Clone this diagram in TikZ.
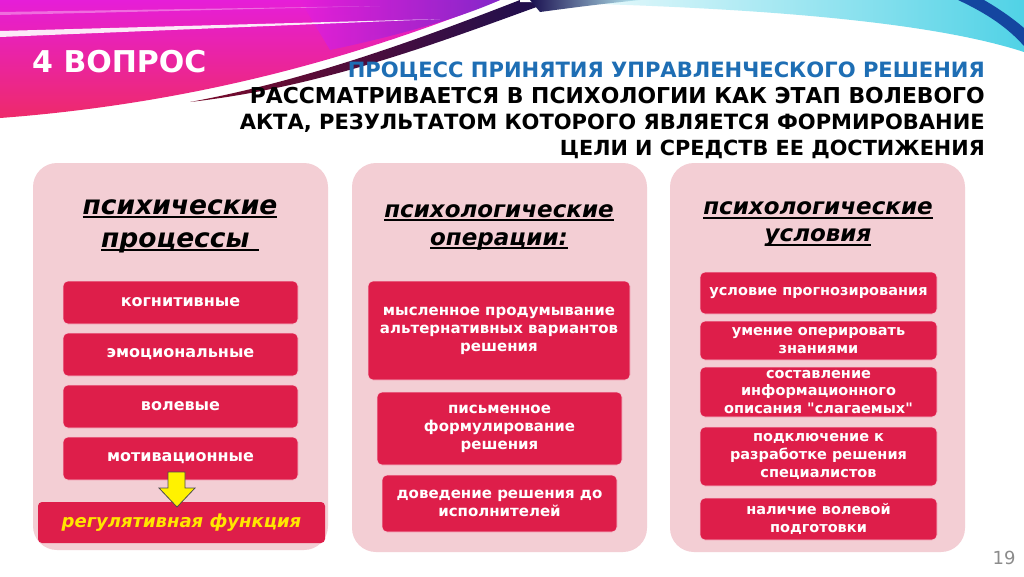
\documentclass[tikz,border=0pt]{standalone}
\usepackage{fontspec}
\setmainfont{DejaVu Sans}
\newfontfamily\nqfont{DejaVu Sans}[Ligatures=TeXOff]
\definecolor{mag}{HTML}{E61ED8}
\definecolor{pinkred}{HTML}{EE2A6A}
\definecolor{violet}{HTML}{7A28C8}
\definecolor{navy}{HTML}{1A1050}
\definecolor{maroon}{HTML}{7A0A2A}
\definecolor{cyanb}{HTML}{50D2E6}
\definecolor{cornerblue}{HTML}{1446A0}
\definecolor{panelpink}{HTML}{F3CED4}
\definecolor{crim}{HTML}{DE1E4A}
\definecolor{tblue}{HTML}{1E6EB4}
\definecolor{regyellow}{HTML}{FFE600}
\definecolor{pgray}{HTML}{8C8C8C}
\newcommand\myul[1]{\setbox0=\hbox{#1}\rlap{\rule[-4pt]{\wd0}{1.8pt}}\box0}
\newcommand\sq{{\nqfont\bfseries"}}
\tikzset{
  panel/.style={fill=panelpink, draw=none, rounded corners=24pt, inner sep=0pt},
  itembox/.style={fill=crim, draw=white!75!crim, line width=0.6pt, rounded corners=5pt,
     text=white, align=center, inner sep=0pt,
     font=\bfseries\fontsize{#1}{18}\selectfont},
  headtext/.style={align=center, inner sep=0pt, text=black,
     font=\bfseries\itshape\fontsize{#1}{#1}\selectfont},
  titleline/.style={anchor=base east, inner sep=0pt, font=\bfseries\fontsize{#1}{#1}\selectfont},
  regbox/.style={fill=crim, draw=none, rounded corners=4pt, text=regyellow,
     font=\bfseries\itshape\fontsize{18}{20}\selectfont, inner sep=0pt},
  arrowsty/.style={fill=yellow, draw=black!70, line width=0.8pt, line join=miter}
}
\begin{document}
\begin{tikzpicture}[x=1pt,y=-1pt]
\useasboundingbox (0,0) rectangle (1024,576);
\fill[white] (0,0) rectangle (1024,576);
% ---- banner ----
\shade[top color=mag, bottom color=pinkred]
  (0,0) -- (500,0) .. controls (410,35) and (240,100) .. (0,118) -- cycle;
\shade[left color=mag, right color=violet, opacity=0.9]
  (300,0) -- (500,0) .. controls (460,18) and (400,35) .. (330,50) -- (300,0) -- cycle;
\shade[left color=maroon, right color=navy]
  (190,102) .. controls (310,80) and (430,35) .. (520,0) -- (556,0)
  .. controls (450,38) and (330,86) .. (190,102) -- cycle;
\fill[white, opacity=0.9] (0,31) -- (440,19) -- (0,37) -- cycle;
\fill[white, opacity=0.35] (0,12) -- (380,6) -- (0,15) -- cycle;
\shade[left color=white, right color=cyanb]
  (520,0) -- (1024,0) -- (1024,52) .. controls (920,18) and (720,6) .. (520,2) -- cycle;
\shade[left color=navy, right color=cyanb!40]
  (530,0) -- (640,0) .. controls (600,4) and (570,8) .. (540,12) -- cycle;
\fill[cornerblue] (958,0) .. controls (988,14) and (1008,28) .. (1024,46)
  -- (1024,28) .. controls (1010,16) and (996,7) .. (984,0) -- cycle;
% ---- titles ----
\node[anchor=base west, inner sep=0pt, text=white, font=\bfseries\fontsize{30}{30}\selectfont]
  (q) at (32,72) {4 ВОПРОС};
\node[titleline=20.5, text=tblue] (t1) at (985,77) {\resizebox{637pt}{!}{ПРОЦЕСС ПРИНЯТИЯ УПРАВЛЕНЧЕСКОГО РЕШЕНИЯ}};
\node[titleline=22] (t2) at (985,103) {\resizebox{735pt}{!}{РАССМАТРИВАЕТСЯ В ПСИХОЛОГИИ КАК ЭТАП ВОЛЕВОГО}};
\node[titleline=22] (t3) at (985,129) {\resizebox{745pt}{!}{АКТА, РЕЗУЛЬТАТОМ КОТОРОГО ЯВЛЯЕТСЯ ФОРМИРОВАНИЕ}};
\node[titleline=22] (t4) at (985,155) {\resizebox{425pt}{!}{ЦЕЛИ И СРЕДСТВ ЕЕ ДОСТИЖЕНИЯ}};
% ---- panels ----
\node[panel, minimum width=295pt, minimum height=387pt] (p1) at (180.5,356.5) {};
\node[panel, minimum width=295pt, minimum height=389pt] (p2) at (499.5,357.5) {};
\node[panel, minimum width=295pt, minimum height=389pt] (p3) at (817.5,357.5) {};
% ---- column 1 ----
\node[headtext=26, font=\bfseries\itshape\fontsize{26.5}{33}\selectfont] (h1) at (180,226)
  {\myul{психические}\\\myul{процессы\ }};
\node[itembox=16, minimum width=235pt, minimum height=43pt] (a1) at (180.5,302.5) {когнитивные};
\node[itembox=16, minimum width=235pt, minimum height=43pt] (a2) at (180.5,354.5) {эмоциональные};
\node[itembox=16, minimum width=235pt, minimum height=43pt] (a3) at (180.5,406.5) {волевые};
\node[itembox=16, minimum width=235pt, minimum height=43pt] (a4) at (180.5,458.5) {мотивационные};
\node[regbox, minimum width=287pt, minimum height=41pt] (reg) at (181.5,522.5) {регулятивная функция};
\draw[arrowsty] (168,472) -- (185,472) -- (185,488) -- (195,488) -- (177,507)
  -- (159,488) -- (168,488) -- cycle;
% ---- column 2 ----
\node[headtext=23, font=\bfseries\itshape\fontsize{23}{28}\selectfont] (h2) at (499,227)
  {\myul{психологические}\\\myul{операции:}};
\node[itembox=15, minimum width=262pt, minimum height=99pt] (b1) at (499,330.5)
  {мысленное продумывание\\альтернативных вариантов\\решения};
\node[itembox=15, minimum width=245pt, minimum height=73pt] (b2) at (499.5,428.5)
  {письменное\\формулирование\\решения};
\node[itembox=15, minimum width=235pt, minimum height=57pt] (b3) at (499.5,503.5)
  {доведение решения до\\исполнителей};
% ---- column 3 ----
\node[headtext=23, font=\bfseries\itshape\fontsize{23}{27}\selectfont] (h3) at (818,224.5)
  {\myul{психологические}\\\myul{условия}};
\node[itembox=14.5, minimum width=237pt, minimum height=42pt] (c1) at (818.5,293) {условие прогнозирования};
\node[itembox=14.5, minimum width=237pt, minimum height=39pt] (c2) at (818.5,340.5) {умение оперировать\\знаниями};
\node[itembox=14.5, minimum width=237pt, minimum height=50pt, font=\bfseries\fontsize{14.5}{17.5}\selectfont] (c3) at (818.5,392)
  {составление\\информационного\\описания \sq слагаемых\sq};
\node[itembox=14.5, minimum width=237pt, minimum height=59pt] (c4) at (818.5,456.5)
  {подключение к\\разработке решения\\специалистов};
\node[itembox=14.5, minimum width=237pt, minimum height=42pt] (c5) at (818.5,519)
  {наличие волевой\\подготовки};
% ---- page number ----
\node[text=pgray, font=\fontsize{18}{18}\selectfont, inner sep=0pt] (pg) at (1004,558) {19};
\end{tikzpicture}
\end{document}
